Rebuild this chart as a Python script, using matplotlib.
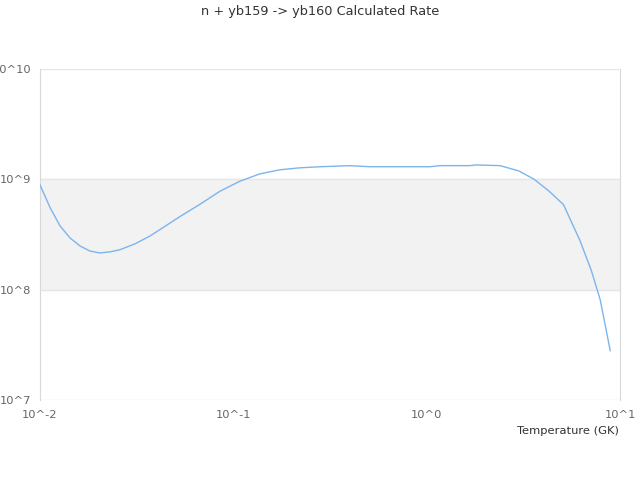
import numpy as np
import matplotlib.pyplot as plt

# temperature (GK) and rate
temperature = [0.01, 0.0113, 0.0127, 0.0143, 0.0161, 0.0181, 0.0204, 0.023, 0.0259,
               0.031, 0.037, 0.0417, 0.053, 0.0673, 0.0853, 0.108, 0.137, 0.174,
               0.22, 0.28, 0.40, 0.51, 0.73, 1.04, 1.17, 1.67, 1.8, 2.4, 3.0, 3.6,
               4.3, 5.1, 6.2, 7.1, 7.9, 8.9]
rate = [8.9e8, 5.5e8, 3.78e8, 2.94e8, 2.49e8, 2.24e8, 2.15e8, 2.2e8, 2.3e8,
        2.6e8, 3.06e8, 3.5e8, 4.6e8, 5.95e8, 7.8e8, 9.6e8, 1.12e9, 1.22e9,
        1.27e9, 1.3e9, 1.33e9, 1.3e9, 1.3e9, 1.3e9, 1.33e9, 1.33e9, 1.35e9, 1.33e9,
        1.19e9, 1.0e9, 7.8e8, 5.9e8, 2.8e8, 1.5e8, 8.1e7, 2.8e7]

xticks = [1e-2, 1e-1, 1e0, 1e1]
xticklabels = ['10^-2', '10^-1', '10^0', '10^1']
yticks = [1e7, 1e8, 1e9, 1e10]
yticklabels = ['10^7', '10^8', '10^9', '10^10']

fig = plt.figure(figsize=(6.4, 4.8), dpi=100)
ax = fig.add_axes([0.0625, 0.1667, 0.90625, 0.6896])

ax.set_xscale('log')
ax.set_yscale('log')
ax.set_xlim(1e-2, 1e1)
ax.set_ylim(1e7, 1e10)

# alternate band
ax.axhspan(1e8, 1e9, color='#f2f2f2', zorder=0)
for y in yticks:
    ax.axhline(y, color='#e6e6e6', linewidth=1, zorder=1)

ax.plot(temperature, rate, color='#7cb5ec', linewidth=1, zorder=3)

ax.set_xticks(xticks)
ax.set_xticklabels(xticklabels)
ax.set_yticks(yticks)
ax.set_yticklabels(yticklabels)
ax.minorticks_off()
ax.tick_params(axis='both', length=0, labelsize=8.25, colors='#666666')
ax.tick_params(axis='x', pad=7)
ax.tick_params(axis='y', pad=6.5)

for side in ['top', 'bottom']:
    ax.spines[side].set_visible(False)
for side in ['left', 'right']:
    ax.spines[side].set_color('#d8d8d8')

fig.text(0.5, 0.975, 'n + yb159 -> yb160 Calculated Rate', ha='center', va='center',
         fontsize=9.3, color='#333333')
fig.text(0.967, 0.102, 'Temperature (GK)', ha='right', va='center',
         fontsize=8.25, color='#333333')

fig.savefig('out.png', dpi=100)
